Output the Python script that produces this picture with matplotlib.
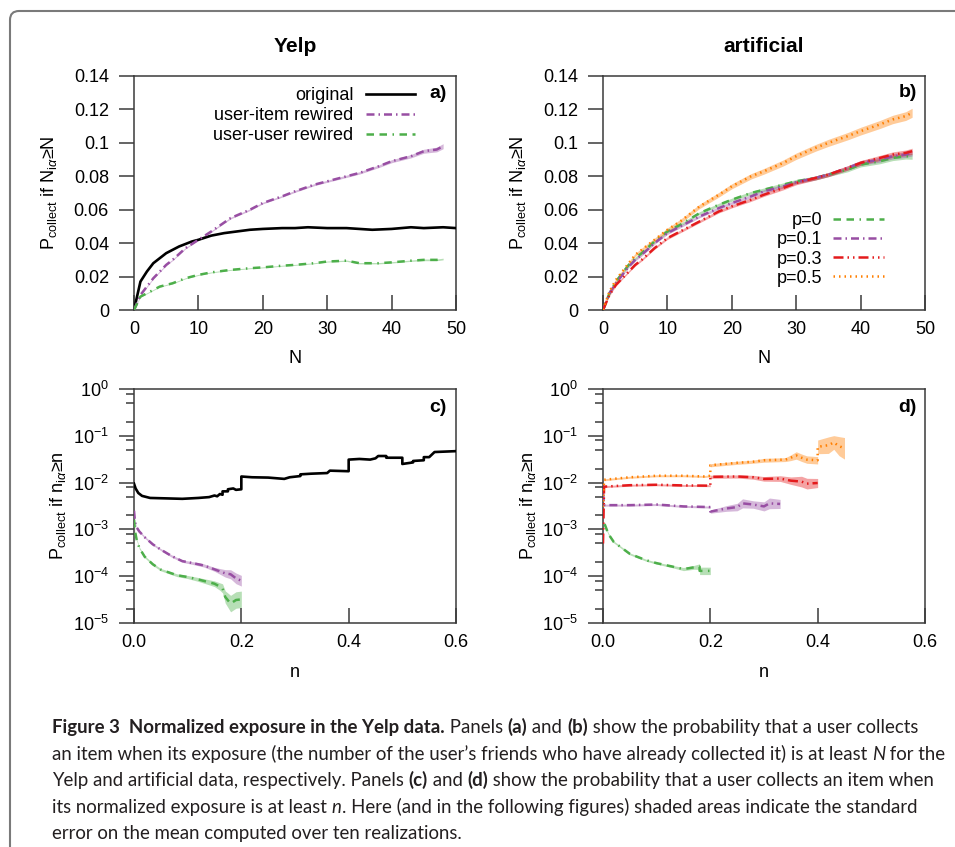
import matplotlib
matplotlib.use("Agg")
import numpy as np
import matplotlib.pyplot as plt
from matplotlib.lines import Line2D
from matplotlib.patches import FancyBboxPatch
from matplotlib.ticker import FormatStrFormatter, LogLocator, NullFormatter

plt.rcParams['font.family'] = ['Liberation Sans', 'DejaVu Sans']
plt.rcParams['mathtext.fontset'] = 'custom'
plt.rcParams['mathtext.rm'] = 'Liberation Sans'
plt.rcParams['mathtext.it'] = 'Liberation Sans:italic'
plt.rcParams['mathtext.bf'] = 'Liberation Sans:bold'
plt.rcParams['axes.unicode_minus'] = False

# ---- panel a: Yelp, exposure N ----
N_a_orig = [0, 1, 2, 3, 4, 5, 6, 7, 8, 9, 10, 12, 14, 16, 18, 20, 23, 25, 27, 30, 33, 35, 37, 40, 43, 45, 48, 50]
orig_a = [0, 0.017, 0.023, 0.028, 0.031, 0.034, 0.036, 0.038, 0.0395, 0.041, 0.042, 0.0445, 0.046, 0.047,
          0.048, 0.0485, 0.049, 0.049, 0.0495, 0.049, 0.049, 0.0485, 0.048, 0.0485, 0.0495, 0.049, 0.0495, 0.049]
N_a_rw = [0, 1, 2, 3, 4, 5, 6, 8, 10, 12, 15, 18, 20, 23, 25, 28, 30, 33, 35, 38, 40, 43, 45, 47, 48]
item_a = [0, 0.009, 0.014, 0.019, 0.023, 0.027, 0.030, 0.037, 0.042, 0.047, 0.055, 0.060, 0.064, 0.068,
          0.071, 0.075, 0.077, 0.080, 0.082, 0.086, 0.089, 0.092, 0.095, 0.096, 0.098]
item_a_err = [0, .0004, .0004, .0004, .0004, .0004, .0004, .0004, .0004, .0004, .0005, .0005, .0005, .0005,
              .0006, .0006, .0006, .0007, .0007, .0008, .0009, .0010, .0012, .0014, .0015]
user_a = [0, 0.008, 0.010, 0.012, 0.014, 0.015, 0.016, 0.019, 0.021, 0.0225, 0.024, 0.025, 0.0255, 0.0265,
          0.027, 0.028, 0.029, 0.0295, 0.028, 0.028, 0.0285, 0.0295, 0.030, 0.030, 0.0305]
user_a_err = [0, .0003, .0003, .0003, .0003, .0003, .0003, .0003, .0003, .0003, .0003, .0003, .0003, .0003,
              .0003, .0003, .0003, .0004, .0004, .0004, .0004, .0004, .0005, .0005, .0005]

# ---- panel b: artificial, exposure N ----
N_b = [0, 1, 2, 3, 4, 5, 6, 8, 10, 12, 15, 18, 20, 23, 25, 28, 30, 33, 35, 38, 40, 43, 45, 47, 48]
p0_b = [0, 0.010, 0.017, 0.022, 0.027, 0.031, 0.034, 0.041, 0.047, 0.051, 0.058, 0.063, 0.066, 0.070,
        0.072, 0.075, 0.077, 0.079, 0.081, 0.084, 0.087, 0.089, 0.091, 0.092, 0.092]
p01_b = [0, 0.010, 0.016, 0.021, 0.026, 0.030, 0.033, 0.040, 0.046, 0.050, 0.056, 0.061, 0.064, 0.068,
         0.071, 0.074, 0.0765, 0.079, 0.081, 0.085, 0.088, 0.090, 0.092, 0.093, 0.094]
p03_b = [0, 0.009, 0.015, 0.019, 0.023, 0.027, 0.030, 0.037, 0.043, 0.047, 0.053, 0.059, 0.062, 0.066,
         0.069, 0.073, 0.076, 0.079, 0.081, 0.085, 0.088, 0.091, 0.093, 0.094, 0.095]
p05_b = [0, 0.011, 0.018, 0.023, 0.028, 0.033, 0.036, 0.042, 0.048, 0.053, 0.062, 0.069, 0.074, 0.080,
         0.083, 0.088, 0.092, 0.097, 0.100, 0.104, 0.107, 0.111, 0.114, 0.116, 0.118]
p_b_err = [0, .0006, .0006, .0006, .0006, .0007, .0007, .0007, .0008, .0008, .0008, .0009, .0009, .0010,
           .0010, .0011, .0011, .0012, .0012, .0013, .0014, .0015, .0016, .0017, .0018]
p05_b_err = [0, .0008, .0008, .0008, .0009, .0009, .0010, .0010, .0011, .0012, .0013, .0014, .0015, .0016,
             .0017, .0018, .0019, .0020, .0021, .0022, .0023, .0024, .0025, .0026, .0027]

# ---- panel c: Yelp, normalized exposure n (relative errors) ----
n_c_orig = [0, 0.003, 0.008, 0.015, 0.03, 0.06, 0.09, 0.12, 0.14, 0.15, 0.155, 0.16, 0.165, 0.165, 0.175,
            0.175, 0.185, 0.19, 0.2, 0.2, 0.22, 0.25, 0.28, 0.29, 0.31, 0.31, 0.33, 0.36, 0.365, 0.4,
            0.4, 0.42, 0.44, 0.45, 0.455, 0.47, 0.47, 0.5, 0.5, 0.52, 0.52, 0.54, 0.54, 0.55, 0.56, 0.6]
orig_c = [0.0095, 0.0075, 0.006, 0.0052, 0.0047, 0.0046, 0.0045, 0.0047, 0.0049, 0.0053, 0.0051, 0.0057,
          0.0055, 0.0065, 0.0065, 0.0072, 0.0075, 0.0070, 0.0072, 0.0135, 0.013, 0.0128, 0.012, 0.013,
          0.0138, 0.015, 0.0155, 0.016, 0.018, 0.0175, 0.031, 0.032, 0.031, 0.033, 0.037, 0.037, 0.034,
          0.034, 0.025, 0.027, 0.029, 0.030, 0.035, 0.035, 0.045, 0.047]
n_c_item = [0, 0.002, 0.005, 0.01, 0.02, 0.035, 0.05, 0.07, 0.09, 0.11, 0.13, 0.15, 0.17, 0.18, 0.19, 0.2]
item_c = [0.0025, 0.0014, 0.0011, 0.0009, 0.00068, 0.00048, 0.00037, 0.00027, 0.00021, 0.00019, 0.00017,
          0.00014, 0.000115, 0.00011, 0.00009, 0.00008]
item_c_err = [0.1, 0.05, 0.05, 0.05, 0.05, 0.05, 0.05, 0.06, 0.06, 0.07, 0.08, 0.1, 0.2, 0.25, 0.3, 0.3]
n_c_user = [0, 0.002, 0.005, 0.01, 0.02, 0.035, 0.05, 0.08, 0.1, 0.12, 0.15, 0.16, 0.165, 0.17, 0.18, 0.19, 0.2]
user_c = [0.0016, 0.0009, 0.0006, 0.0004, 0.00026, 0.00018, 0.000138, 0.000105, 0.000096, 0.000085,
          0.000069, 0.00006, 0.000055, 0.000036, 0.000026, 0.000031, 0.000032]
user_c_err = [0.1, 0.05, 0.05, 0.05, 0.05, 0.06, 0.06, 0.07, 0.08, 0.1, 0.15, 0.2, 0.25, 0.35, 0.5, 0.5, 0.5]

# ---- panel d: artificial, normalized exposure n (relative errors) ----
n_d_p05 = [0, 0.002, 0.05, 0.1, 0.15, 0.19, 0.2, 0.2, 0.25, 0.28, 0.3, 0.34, 0.35, 0.36, 0.37, 0.38, 0.4,
           0.4, 0.42, 0.43, 0.44, 0.45]
p05_d = [0.003, 0.0115, 0.013, 0.014, 0.014, 0.0135, 0.014, 0.0235, 0.0265, 0.028, 0.030, 0.031, 0.034,
         0.038, 0.034, 0.031, 0.030, 0.058, 0.063, 0.072, 0.060, 0.054]
p05_d_err = [0.1, 0.05, 0.05, 0.05, 0.05, 0.05, 0.05, 0.08, 0.08, 0.08, 0.1, 0.1, 0.15, 0.2, 0.2, 0.2, 0.2,
             0.4, 0.5, 0.4, 0.6, 0.7]
n_d_p03 = [0, 0.002, 0.05, 0.1, 0.15, 0.2, 0.2, 0.25, 0.28, 0.3, 0.33, 0.35, 0.37, 0.38, 0.4]
p03_d = [0.0005, 0.0082, 0.0088, 0.009, 0.0087, 0.0086, 0.0133, 0.0135, 0.013, 0.012, 0.0122, 0.011,
         0.0105, 0.0095, 0.0098]
p03_d_err = [0.1, 0.05, 0.05, 0.05, 0.05, 0.05, 0.08, 0.08, 0.1, 0.12, 0.15, 0.2, 0.3, 0.3, 0.25]
n_d_p01 = [0, 0.002, 0.05, 0.1, 0.15, 0.2, 0.2, 0.23, 0.25, 0.26, 0.28, 0.3, 0.31, 0.33]
p01_d = [0.006, 0.0033, 0.0033, 0.0034, 0.0031, 0.003, 0.0024, 0.0028, 0.003, 0.0036, 0.0034, 0.0031,
         0.0036, 0.0035]
p01_d_err = [0.1, 0.05, 0.05, 0.05, 0.05, 0.05, 0.08, 0.15, 0.2, 0.25, 0.2, 0.25, 0.3, 0.25]
n_d_p0 = [0.003, 0.01, 0.02, 0.05, 0.08, 0.1, 0.13, 0.15, 0.17, 0.18, 0.18, 0.2]
p0_d = [0.0013, 0.0008, 0.00054, 0.0003, 0.00022, 0.00019, 0.00016, 0.000142, 0.000155, 0.00016,
        0.00013, 0.00013]
p0_d_err = [0.1, 0.05, 0.05, 0.05, 0.05, 0.05, 0.06, 0.08, 0.1, 0.15, 0.2, 0.2]

# colours / line styles (gnuplot-like)
BLACK = '#000000'
PURPLE = '#984ea3'
GREEN = '#4daf4a'
RED = '#e41a1c'
ORANGE = '#ff7f00'
LS_ITEM = (0, (3.2, 1.6, 0.6, 1.6))
LS_USER = (0, (3.0, 2.2, 3.0, 2.2, 0.6, 2.2))
LS_P03 = (0, (4.0, 1.6, 0.6, 1.6, 0.6, 1.6))
LS_DOT = (0, (0.6, 1.6))
SPINE = '#3a3a3a'
FS = 13

fig = plt.figure(figsize=(9.55, 8.47), dpi=100)
W, H = 955, 847


def add_ax(x0, y0, x1, y1):
    return fig.add_axes([x0 / W, 1 - y1 / H, (x1 - x0) / W, (y1 - y0) / H])


def style_axes(ax):
    for s in ax.spines.values():
        s.set_color(SPINE)
        s.set_linewidth(1.1)
    ax.tick_params(axis='y', direction='out', length=11, width=1.1, color=SPINE, pad=7, labelsize=FS)
    ax.tick_params(axis='y', which='minor', direction='out', length=6, width=1.1, color=SPINE)
    ax.tick_params(axis='x', direction='in', length=11, width=1.1, color=SPINE, pad=8, labelsize=FS)
    ax.tick_params(axis='x', which='minor', length=0)


def band(ax, x, y, e, color, rel=False):
    x = np.asarray(x)
    y = np.asarray(y)
    e = np.asarray(e)
    if rel:
        lo, hi = y / (1 + e), y * (1 + e)
    else:
        lo, hi = y - e, y + e
    ax.fill_between(x, lo, hi, color=color, alpha=0.4, lw=0, zorder=1)


# ---- panel a ----
ax_a = add_ax(134, 76, 456, 310)
band(ax_a, N_a_rw, item_a, item_a_err, PURPLE)
band(ax_a, N_a_rw, user_a, user_a_err, GREEN)
ax_a.plot(N_a_orig, orig_a, color=BLACK, lw=1.9, zorder=3)
ax_a.plot(N_a_rw, item_a, color=PURPLE, lw=1.8, ls=LS_ITEM, zorder=3)
ax_a.plot(N_a_rw, user_a, color=GREEN, lw=1.8, ls=LS_USER, zorder=3)
ax_a.set_xlim(0, 50)
ax_a.set_ylim(0, 0.14)
ax_a.set_xticks([0, 10, 20, 30, 40, 50])
ax_a.set_yticks([0, 0.02, 0.04, 0.06, 0.08, 0.1, 0.12, 0.14])
ax_a.set_yticklabels(['0', '0.02', '0.04', '0.06', '0.08', '0.1', '0.12', '0.14'])
style_axes(ax_a)
ax_a.set_title('Yelp', fontsize=15, fontweight='bold', pad=17)
ax_a.set_xlabel('N', fontsize=FS)
ax_a.set_ylabel(r'P$_{\mathrm{collect}}$ if N$_{\mathrm{i}α}$≥N', fontsize=FS)
ax_a.xaxis.set_label_coords(0.5, -0.17)
ax_a.yaxis.set_label_coords(-0.233, 0.5)
ax_a.text(0.944, 0.927, 'a)', transform=ax_a.transAxes, fontsize=FS + 1, fontweight='bold',
          ha='center', va='center')
handles_a = [Line2D([], [], color=BLACK, lw=1.9),
             Line2D([], [], color=PURPLE, lw=1.8, ls=LS_ITEM),
             Line2D([], [], color=GREEN, lw=1.8, ls=LS_USER)]
leg_a = ax_a.legend(handles_a, ['original', 'user-item rewired', 'user-user rewired'],
                    loc='upper right', bbox_to_anchor=(0.872, 0.952), frameon=False, fontsize=FS,
                    markerfirst=False, handlelength=2.7, handletextpad=0.7, labelspacing=0.17,
                    borderpad=0, borderaxespad=0)
leg_a._legend_box._children[1]._children[0].align = 'right'

# ---- panel b ----
ax_b = add_ax(603, 76, 925, 310)
band(ax_b, N_b, p0_b, p_b_err, GREEN)
band(ax_b, N_b, p01_b, p_b_err, PURPLE)
band(ax_b, N_b, p03_b, p_b_err, RED)
band(ax_b, N_b, p05_b, p05_b_err, ORANGE)
ax_b.plot(N_b, p0_b, color=GREEN, lw=1.8, ls=LS_USER, zorder=3)
ax_b.plot(N_b, p01_b, color=PURPLE, lw=1.8, ls=LS_ITEM, zorder=3)
ax_b.plot(N_b, p03_b, color=RED, lw=1.8, ls=LS_P03, zorder=3)
ax_b.plot(N_b, p05_b, color=ORANGE, lw=1.8, ls=LS_DOT, zorder=3)
ax_b.set_xlim(0, 50)
ax_b.set_ylim(0, 0.14)
ax_b.set_xticks([0, 10, 20, 30, 40, 50])
ax_b.set_yticks([0, 0.02, 0.04, 0.06, 0.08, 0.1, 0.12, 0.14])
ax_b.set_yticklabels(['0', '0.02', '0.04', '0.06', '0.08', '0.1', '0.12', '0.14'])
style_axes(ax_b)
ax_b.set_title('artificial', fontsize=15, fontweight='bold', pad=17)
ax_b.set_xlabel('N', fontsize=FS)
ax_b.set_ylabel(r'P$_{\mathrm{collect}}$ if N$_{\mathrm{i}α}$≥N', fontsize=FS)
ax_b.xaxis.set_label_coords(0.5, -0.17)
ax_b.yaxis.set_label_coords(-0.233, 0.5)
ax_b.text(0.947, 0.93, 'b)', transform=ax_b.transAxes, fontsize=FS + 1, fontweight='bold',
          ha='center', va='center')
handles_b = [Line2D([], [], color=GREEN, lw=1.8, ls=LS_USER),
             Line2D([], [], color=PURPLE, lw=1.8, ls=LS_ITEM),
             Line2D([], [], color=RED, lw=1.8, ls=LS_P03),
             Line2D([], [], color=ORANGE, lw=1.8, ls=LS_DOT)]
leg_b = ax_b.legend(handles_b, ['p=0', 'p=0.1', 'p=0.3', 'p=0.5'],
                    loc='upper right', bbox_to_anchor=(0.872, 0.418), frameon=False, fontsize=FS,
                    markerfirst=False, handlelength=2.8, handletextpad=0.6, labelspacing=0.12,
                    borderpad=0, borderaxespad=0)
leg_b._legend_box._children[1]._children[0].align = 'right'


def style_log(ax):
    ax.set_yscale('log')
    ax.set_ylim(1e-5, 1)
    ax.set_xlim(0, 0.6)
    ax.set_xticks([0, 0.2, 0.4, 0.6])
    ax.xaxis.set_major_formatter(FormatStrFormatter('%.1f'))
    ax.yaxis.set_major_locator(LogLocator(base=10, numticks=10))
    ax.yaxis.set_minor_locator(LogLocator(base=10, subs=(2.0, 5.0, 8.0), numticks=10))
    ax.yaxis.set_minor_formatter(NullFormatter())
    style_axes(ax)
    ax.set_xlabel('n', fontsize=FS)
    ax.set_ylabel(r'P$_{\mathrm{collect}}$ if n$_{\mathrm{i}α}$≥n', fontsize=FS)
    ax.xaxis.set_label_coords(0.5, -0.175)


# ---- panel c ----
ax_c = add_ax(134, 389, 456, 623)
band(ax_c, n_c_item, item_c, item_c_err, PURPLE, rel=True)
band(ax_c, n_c_user, user_c, user_c_err, GREEN, rel=True)
ax_c.plot(n_c_orig, orig_c, color=BLACK, lw=1.9, zorder=3)
ax_c.plot(n_c_item, item_c, color=PURPLE, lw=1.8, ls=LS_ITEM, zorder=3)
ax_c.plot(n_c_user, user_c, color=GREEN, lw=1.8, ls=LS_USER, zorder=3)
style_log(ax_c)
ax_c.yaxis.set_label_coords(-0.205, 0.5)
ax_c.text(0.944, 0.919, 'c)', transform=ax_c.transAxes, fontsize=FS + 1, fontweight='bold',
          ha='center', va='center')

# ---- panel d ----
ax_d = add_ax(603, 389, 925, 623)
band(ax_d, n_d_p0, p0_d, p0_d_err, GREEN, rel=True)
band(ax_d, n_d_p01, p01_d, p01_d_err, PURPLE, rel=True)
band(ax_d, n_d_p03, p03_d, p03_d_err, RED, rel=True)
band(ax_d, n_d_p05, p05_d, p05_d_err, ORANGE, rel=True)
ax_d.plot(n_d_p0, p0_d, color=GREEN, lw=1.8, ls=LS_USER, zorder=3)
ax_d.plot(n_d_p01, p01_d, color=PURPLE, lw=1.8, ls=LS_ITEM, zorder=3)
ax_d.plot(n_d_p03, p03_d, color=RED, lw=1.8, ls=LS_P03, zorder=3)
ax_d.plot(n_d_p05, p05_d, color=ORANGE, lw=1.8, ls=LS_DOT, zorder=3)
style_log(ax_d)
ax_d.yaxis.set_label_coords(-0.202, 0.5)
ax_d.text(0.947, 0.919, 'd)', transform=ax_d.transAxes, fontsize=FS + 1, fontweight='bold',
          ha='center', va='center')

# ---- frame around figure + caption ----
frame = FancyBboxPatch((0.1, -1.0), 20, 1.0 + (H - 11) / 100, boxstyle='round,pad=0,rounding_size=0.09',
                       transform=fig.dpi_scale_trans, fc='none', ec='#7a7a7a', lw=1.5)
fig.add_artist(frame)

CAP_FONT = ['Lato', 'Liberation Sans', 'DejaVu Sans']
CAP_COLOR = '#231f20'
CAP_X0, CAP_X1 = 52, 950
caption = [
    [('Figure 3  Normalized exposure in the Yelp data.', 'bold'), (' Panels ', 'normal'), ('(a)', 'bold'),
     (' and ', 'normal'), ('(b)', 'bold'), (' show the probability that a user collects', 'normal')],
    [('an item when its exposure (the number of the user\u2019s friends who have already collected it) is at least ',
      'normal'), ('N', 'italic'), (' for the', 'normal')],
    [('Yelp and artificial data, respectively. Panels ', 'normal'), ('(c)', 'bold'), (' and ', 'normal'),
     ('(d)', 'bold'), (' show the probability that a user collects an item when', 'normal')],
    [('its normalized exposure is at least ', 'normal'), ('n', 'italic'),
     ('. Here (and in the following figures) shaded areas indicate the standard', 'normal')],
    [('error on the mean computed over ten realizations.', 'normal')],
]
renderer = fig.canvas.get_renderer()


def cap_text(x, y, txt, kind, size):
    return fig.text(x / W, y / H, txt, fontsize=size, family=CAP_FONT, color=CAP_COLOR,
                    fontweight='bold' if kind == 'bold' else 'normal',
                    fontstyle='italic' if kind == 'italic' else 'normal', va='baseline', ha='left')


# pick the caption size so that the widest line fits the caption width
widest = 0
for line in caption:
    line_w = 0
    for txt, kind in line:
        t = cap_text(0, 0, txt, kind, 10)
        line_w += t.get_window_extent(renderer).width
        t.remove()
    widest = max(widest, line_w)
cap_size = 10 * (CAP_X1 - CAP_X0) / widest

for i, line in enumerate(caption):
    x = CAP_X0
    y = H - (733 + 26.5 * i)
    for txt, kind in line:
        t = cap_text(x, y, txt, kind, cap_size)
        x += t.get_window_extent(renderer).width

fig.savefig('out.png', dpi=100)
